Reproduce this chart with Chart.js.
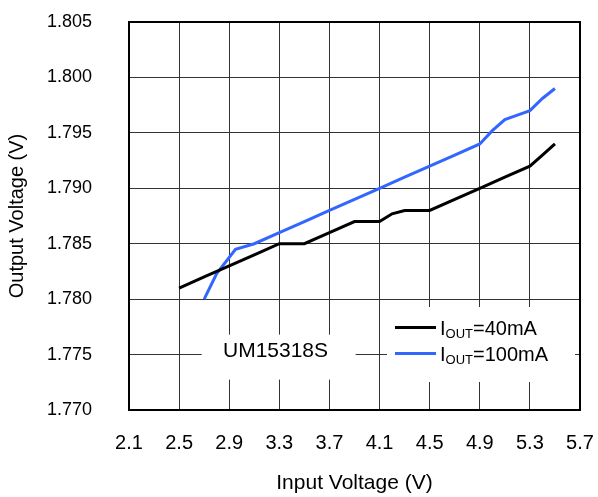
<!DOCTYPE html>
<html lang="en">
<head>
    <meta charset="UTF-8">
    <title>UM15318S Output Voltage vs Input Voltage</title>
    <script src="https://cdn.jsdelivr.net/npm/chart.js"></script>
    <style>
        html, body { margin: 0; padding: 0; background: #fff; }
        #wrap { width: 598px; height: 497px; }
    </style>
</head>
<body>
    <div id="wrap"><canvas id="grafico" width="598" height="497"></canvas></div>
<script>
    // tick labels
    var xTicks = [2.1, 2.5, 2.9, 3.3, 3.7, 4.1, 4.5, 4.9, 5.3, 5.7];
    var yTicks = [1.770, 1.775, 1.780, 1.785, 1.790, 1.795, 1.800, 1.805];

    // IOUT = 40mA
    var vin40 = [2.5, 2.7, 2.9, 3.1, 3.3, 3.5, 3.7, 3.9, 4.1, 4.2, 4.3, 4.5, 4.7, 4.9, 5.1, 5.3, 5.4, 5.5];
    var vout40 = [1.781, 1.782, 1.783, 1.784, 1.785, 1.785, 1.786, 1.787, 1.787, 1.7877, 1.788, 1.788, 1.789, 1.790, 1.791, 1.792, 1.793, 1.794];

    // IOUT = 100mA
    var vin100 = [2.7, 2.8, 2.95, 3.1, 3.3, 3.5, 3.7, 3.9, 4.1, 4.3, 4.5, 4.7, 4.9, 5.0, 5.1, 5.2, 5.3, 5.4, 5.5];
    var vout100 = [1.780, 1.7823, 1.7845, 1.785, 1.786, 1.787, 1.788, 1.789, 1.790, 1.791, 1.792, 1.793, 1.794, 1.7952, 1.7962, 1.7966, 1.7970, 1.7981, 1.7990];

    var seriesNames = ['IOUT=40mA', 'IOUT=100mA'];
    var seriesColors = ['#000000', '#3366ff'];
    var deviceName = 'UM15318S';

    var fonte = '"Liberation Sans", Arial, sans-serif';

    function pares(xs, ys) {
        var out = [];
        for (var i = 0; i < xs.length; i++) out.push({ x: xs[i], y: ys[i] });
        return out;
    }

    // moldura do grafico + caixas de texto (legenda e nome do chip)
    var extras = {
        id: 'extras',
        afterDatasetsDraw: function (chart) {
            var ctx = chart.ctx;
            var a = chart.chartArea;
            var xs = chart.scales.x, ys = chart.scales.y;
            ctx.save();

            // caixa do nome
            ctx.fillStyle = '#fff';
            ctx.fillRect(xs.getPixelForValue(2.68), ys.getPixelForValue(1.7768), 154, 45);
            ctx.fillStyle = '#000';
            ctx.font = '21px ' + fonte;
            ctx.textAlign = 'center';
            ctx.textBaseline = 'middle';
            ctx.fillText(deviceName, 275.5, ys.getPixelForValue(1.775) - 3);

            // legenda
            var lx = 387, ly = 307;
            ctx.fillStyle = '#fff';
            ctx.fillRect(lx, ly, 188, 75);
            ctx.textAlign = 'left';
            ctx.textBaseline = 'alphabetic';
            chart.data.datasets.forEach(function (ds, i) {
                var y = 327.5 + i * 26;
                ctx.strokeStyle = ds.borderColor;
                ctx.lineWidth = 3;
                ctx.beginPath();
                ctx.moveTo(395, y);
                ctx.lineTo(436, y);
                ctx.stroke();
                ctx.fillStyle = '#000';
                ctx.font = '20px ' + fonte;
                var base = y + 7;
                var x = 440;
                ctx.fillText('I', x, base);
                x += ctx.measureText('I').width;
                ctx.font = '13px ' + fonte;
                ctx.fillText('OUT', x, base + 3);
                x += ctx.measureText('OUT').width;
                ctx.font = '20px ' + fonte;
                ctx.fillText(ds.label.replace('IOUT', ''), x, base);
            });

            // moldura
            ctx.strokeStyle = '#000';
            ctx.lineWidth = 2;
            ctx.strokeRect(a.left, a.top, a.right - a.left, a.bottom - a.top);
            ctx.restore();
        }
    };

    new Chart(document.getElementById('grafico'), {
        type: 'line',
        data: {
            datasets: [{
                label: seriesNames[0],
                data: pares(vin40, vout40),
                borderColor: seriesColors[0],
                borderWidth: 3,
                pointRadius: 0,
                fill: false
            }, {
                label: seriesNames[1],
                data: pares(vin100, vout100),
                borderColor: seriesColors[1],
                borderWidth: 3,
                pointRadius: 0,
                fill: false
            }]
        },
        options: {
            responsive: false,
            animation: false,
            layout: { padding: { top: 22, right: 18, left: 0, bottom: 0 } },
            plugins: {
                legend: { display: false },
                tooltip: { enabled: false }
            },
            scales: {
                x: {
                    type: 'linear',
                    min: 2.1,
                    max: 5.7,
                    afterBuildTicks: function (s) { s.ticks = xTicks.map(function (v) { return { value: v }; }); },
                    afterFit: function (s) {
                        s.height = 87;
                        s.paddingLeft = 0;
                        s.paddingRight = 0;
                    },
                    grid: { color: '#333', lineWidth: 1, drawTicks: false },
                    border: { display: false },
                    ticks: {
                        color: '#000',
                        font: { family: fonte, size: 20 },
                        padding: 21,
                        maxRotation: 0,
                        callback: function (v) { return v.toFixed(1); }
                    },
                    title: {
                        display: true,
                        text: 'Input Voltage (V)',
                        color: '#000',
                        font: { family: fonte, size: 21 },
                        padding: { top: 0, bottom: 1 }
                    }
                },
                y: {
                    type: 'linear',
                    min: 1.770,
                    max: 1.805,
                    afterBuildTicks: function (s) { s.ticks = yTicks.map(function (v) { return { value: v }; }); },
                    afterFit: function (s) {
                        s.width = 129;
                        s.paddingTop = 0;
                        s.paddingBottom = 0;
                    },
                    grid: { color: '#333', lineWidth: 1, drawTicks: false },
                    border: { display: false },
                    ticks: {
                        color: '#000',
                        font: { family: fonte, size: 18 },
                        padding: 37,
                        callback: function (v) { return v.toFixed(3); }
                    },
                    title: {
                        display: true,
                        text: 'Output Voltage (V)',
                        color: '#000',
                        font: { family: fonte, size: 20 },
                        padding: { top: 5, bottom: 0 }
                    }
                }
            }
        },
        plugins: [extras]
    });
</script>
</body>
</html>
